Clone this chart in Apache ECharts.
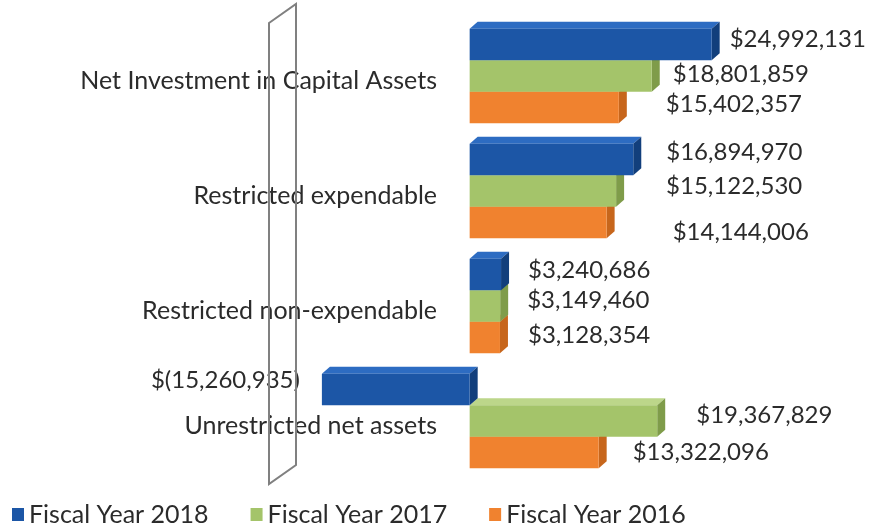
<!DOCTYPE html>
<html>
<head>
<meta charset="utf-8">
<script src="https://cdn.jsdelivr.net/npm/echarts@6/dist/echarts.min.js"></script>
<style>
  html, body { margin: 0; padding: 0; background: #fff; }
  #chart { width: 874px; height: 529px; }
</style>
</head>
<body>
<div id="chart"></div>
<script>
// data
var categories = ['Net Investment in Capital Assets', 'Restricted expendable', 'Restricted non-expendable', 'Unrestricted net assets'];
var seriesNames = ['Fiscal Year 2018', 'Fiscal Year 2017', 'Fiscal Year 2016'];
var fy2018 = [24992131, 16894970, 3240686, -15260935];
var fy2017 = [18801859, 15122530, 3149460, 19367829];
var fy2016 = [15402357, 14144006, 3128354, 13322096];

// label nudges (px) per series / category, like the Excel layout
var labelNudge = [
  [[0, -5], [15, -7], [9, -4], [0, -9]],
  [[3, -2], [32, -5], [9, -6], [21, -6]],
  [[29, -3], [48, 10], [10, -2], [16, 0]]
];

var colors = [
  { front: '#1c56a6', top: '#2d6cc2', side: '#123f7c' },
  { front: '#a4c46a', top: '#bcd68a', side: '#7f9c4a' },
  { front: '#f0822f', top: '#f69a55', side: '#c7661c' }
];

var SLOT = 31.5, DX = 8, DY = 7;
var FONT = 'Lato';

function fmt(v) {
  var s = Math.abs(v).toString().replace(/\B(?=(\d{3})+(?!\d))/g, ',');
  return v < 0 ? '$(' + s + ')' : '$' + s;
}

function makeRender(si) {
  return function (params, api) {
    var cat = api.value(0);
    var val = api.value(1);
    var pv = api.coord([val, cat]);
    var p0 = api.coord([0, cat]);
    var c = pv[1];
    var top = c - (3 * SLOT + DY) / 2 + DY + si * SLOT;
    var bot = top + SLOT;
    var xa = Math.min(pv[0], p0[0]);
    var xb = Math.max(pv[0], p0[0]);
    var col = colors[si];
    var nd = labelNudge[si][params.dataIndex];
    var lx, align;
    if (val >= 0) { lx = xb + DX + 10 + nd[0]; align = 'left'; }
    else { lx = xa - 22 - nd[0]; align = 'right'; }
    return {
      type: 'group',
      children: [
        { type: 'polygon', shape: { points: [[xa, top], [xb, top], [xb + DX, top - DY], [xa + DX, top - DY]] },
          style: { fill: col.top } },
        { type: 'polygon', shape: { points: [[xb, top], [xb + DX, top - DY], [xb + DX, bot - DY], [xb, bot]] },
          style: { fill: col.side } },
        { type: 'rect', shape: { x: xa, y: top, width: xb - xa, height: SLOT },
          style: { fill: col.front } },
        { type: 'text', x: lx, y: (top + bot) / 2 + nd[1],
          style: { text: fmt(val), align: align, verticalAlign: 'middle', fill: '#2b2b2b',
                   font: '24px ' + FONT } }
      ]
    };
  };
}

var allData = [fy2018, fy2017, fy2016];

var myChart = echarts.init(document.getElementById('chart'));
var option = {
  animation: false,
  color: [colors[0].front, colors[1].front, colors[2].front],
  legend: {
    data: seriesNames,
    left: 7,
    bottom: -3,
    icon: 'rect',
    itemWidth: 12,
    itemHeight: 13,
    itemGap: 42,
    textStyle: { fontFamily: FONT, fontSize: 25, color: '#2b2b2b' }
  },
  grid: { left: 276, right: 17, top: 15, bottom: 54, outerBoundsMode: 'none', containLabel: false },
  xAxis: {
    type: 'value',
    min: -20000000,
    max: 40000000,
    show: false
  },
  yAxis: {
    type: 'category',
    data: categories,
    inverse: true,
    axisLine: { show: false },
    axisTick: { show: false },
    axisLabel: { margin: -161, align: 'right', verticalAlign: 'top', lineHeight: 16,
                 fontFamily: FONT, fontSize: 25, color: '#2b2b2b' }
  },
  graphic: [{
    type: 'polygon',
    z: 100,
    shape: { points: [[269, 23], [296, 4], [296, 465], [269, 484]] },
    style: { fill: 'none', stroke: '#808080', lineWidth: 2 }
  }],
  series: seriesNames.map(function (name, si) {
    return {
      name: name,
      type: 'custom',
      z: 10 - si,
      renderItem: makeRender(si),
      encode: { x: 1, y: 0 },
      data: allData[si].map(function (v, i) { return [i, v]; })
    };
  })
};
myChart.setOption(option);
</script>
</body>
</html>
